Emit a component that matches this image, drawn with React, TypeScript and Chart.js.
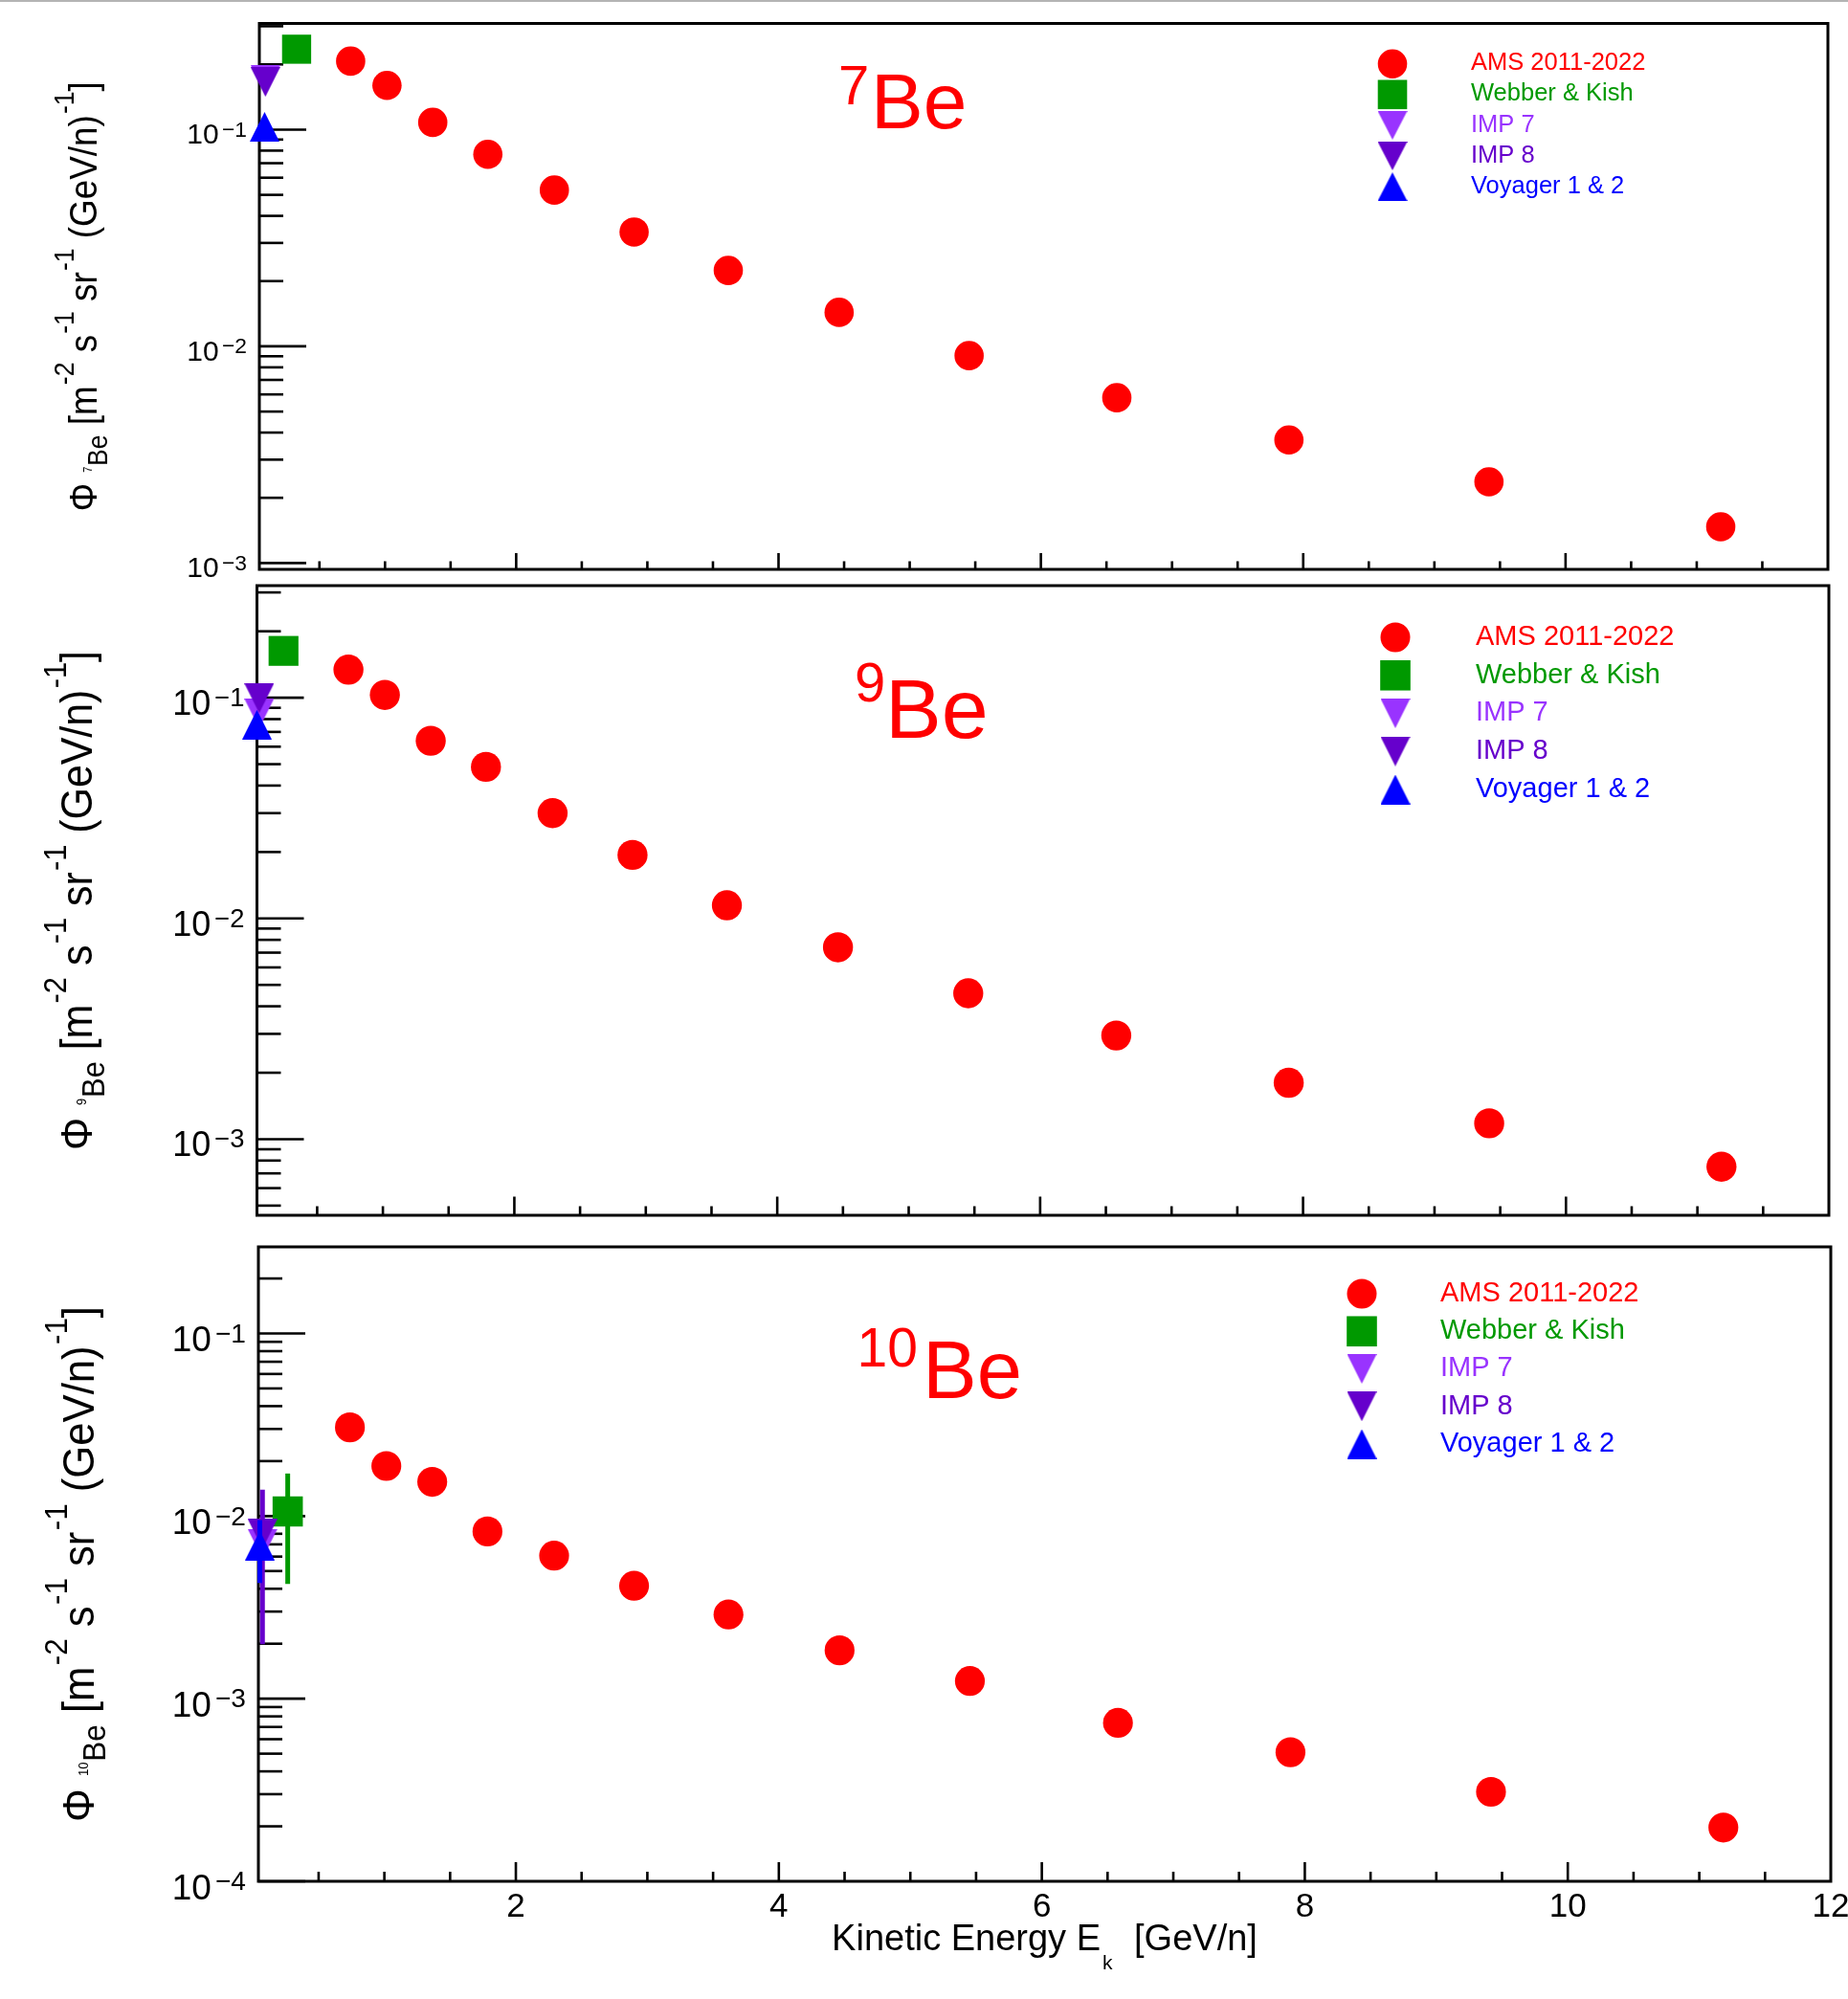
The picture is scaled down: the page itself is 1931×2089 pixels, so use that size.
import React, { useEffect, useRef } from 'react';
import { Chart, registerables } from 'chart.js';

Chart.register(...registerables);

// ------------------------------------------------------------------ data
// AMS bin energies (GeV/n) and fluxes for each isotope
const amsEnergy = [0.738, 1.015, 1.364, 1.784, 2.291, 2.899, 3.617, 4.462, 5.453, 6.579, 7.891, 9.416, 11.183];
const amsFluxBe7 = [0.207, 0.160, 0.108, 0.0769, 0.0526, 0.0337, 0.0224, 0.01435, 0.00906, 0.00579, 0.00370, 0.00237, 0.00147];
const amsFluxBe9 = [0.134, 0.103, 0.0638, 0.0486, 0.0300, 0.0194, 0.01147, 0.00740, 0.00458, 0.00295, 0.00180, 0.00118, 0.00075];
const amsFluxBe10 = [0.0306, 0.0188, 0.0154, 0.00824, 0.00607, 0.00415, 0.00289, 0.00184, 0.00125, 0.000737, 0.000509, 0.000309, 0.000197];

// other experiments, index 0: 7Be, 1: 9Be, 2: 10Be
const webberEnergy = [0.326, 0.244, 0.265];
const webberFlux = [0.235, 0.163, 0.0106];
const webberErrLow = [null, null, 0.00425];
const webberErrHigh = [null, null, 0.0171];

const imp7Energy = [0.088, 0.059, 0.073];
const imp7Flux = [0.170, 0.0848, 0.00705];

const imp8Energy = [0.088, 0.059, 0.073];
const imp8Flux = [0.166, 0.0995, 0.0080];
const imp8ErrLow = [null, null, 0.00199];
const imp8ErrHigh = [null, null, 0.01396];

const voyagerEnergy = [0.082, 0.042, 0.053];
const voyagerFlux = [0.103, 0.0755, 0.0069];
const voyagerErrLow = [null, null, 0.0043];
const voyagerErrHigh = [null, null, 0.0095];

const seriesNames = ['AMS 2011-2022', 'Webber & Kish', 'IMP 7', 'IMP 8', 'Voyager 1 & 2'];
const seriesColors = ['#ff0000', '#009900', '#9933ff', '#6600cc', '#0000ff'];
const isotopeMass = ['7', '9', '10'];
const amsFluxByPanel = [amsFluxBe7, amsFluxBe9, amsFluxBe10];

const yTickDecades = [
  [1e-1, 1e-2, 1e-3],
  [1e-1, 1e-2, 1e-3],
  [1e-1, 1e-2, 1e-3, 1e-4],
];
const xTickValues = [2, 4, 6, 8, 10, 12];
const xTickLabels = ['2', '4', '6', '8', '10', '12'];
const xAxisTitleParts = ['Kinetic Energy E', 'k', ' [GeV/n]'];

const X_MIN = 0.042;
const X_MAX = 12;

// ------------------------------------------------------------------ layout (page coordinates)
const PAGE_W = 1931;
const PAGE_H = 2089;

const PANELS = [
  {
    top: 0, height: 640,
    area: { left: 271, top: 24.5, right: 1910, bottom: 595 },
    yRange: [9.35e-4, 0.309],
    tickFont: 30,
    yTitle: { font: 41, x: 101, len: 449 },
    xTickLen: [17, 8.5],
    iso: { supX: 876, supBase: 109, supFont: 58, mainX: 910, mainBase: 134, mainFont: 82 },
    legend: { mx: 1455, y0: 66.7, dy: 32.1, tx: 1537, font: 25.5, r: 15.3, sq: 15.3, triW: 30.5, triH: 30 },
    marker: { r: 15.3, sq: 15.2, triW: 30.5, triH: 31 },
  },
  {
    top: 600, height: 700,
    area: { left: 268.5, top: 612, right: 1911, bottom: 1270 },
    yRange: [4.52e-4, 0.322],
    tickFont: 36,
    yTitle: { font: 47, x: 96, len: 522 },
    xTickLen: [19.5, 9.5],
    iso: { supX: 893, supBase: 733, supFont: 58, mainX: 925, mainBase: 771, mainFont: 88 },
    legend: { mx: 1458, y0: 666, dy: 39.75, tx: 1542, font: 29, r: 15.5, sq: 15.8, triW: 31, triH: 31 },
    marker: { r: 15.7, sq: 15.6, triW: 31, triH: 31 },
  },
  {
    top: 1285, height: 804,
    area: { left: 270, top: 1303, right: 1913, bottom: 1966 },
    yRange: [1e-4, 0.298],
    tickFont: 37,
    yTitle: { font: 47, x: 97.5, len: 539 },
    xTickLen: [20, 10],
    iso: { supX: 895.6, supBase: 1428, supFont: 57, mainX: 964, mainBase: 1461, mainFont: 85 },
    legend: { mx: 1423, y0: 1352, dy: 39.25, tx: 1505, font: 29, r: 15.5, sq: 15.8, triW: 31, triH: 31 },
    marker: { r: 15.6, sq: 15.8, triW: 31, triH: 31 },
  },
];

const FONT = '"Liberation Sans", Arial, Helvetica, sans-serif';
const font = (px: number) => `${px}px ${FONT}`;

type Seg = { t: string; s: number; dy?: number; dx?: number };

function segWidth(ctx: CanvasRenderingContext2D, segs: Seg[]) {
  let w = 0;
  for (const g of segs) {
    ctx.font = font(g.s);
    w += (g.dx || 0) + ctx.measureText(g.t).width;
  }
  return w;
}

function drawSegs(ctx: CanvasRenderingContext2D, segs: Seg[], x: number, y: number) {
  let cx = x;
  ctx.textAlign = 'left';
  ctx.textBaseline = 'alphabetic';
  for (const g of segs) {
    ctx.font = font(g.s);
    cx += g.dx || 0;
    ctx.fillText(g.t, cx, y + (g.dy || 0));
    cx += ctx.measureText(g.t).width;
  }
}

function triCanvas(color: string, w: number, h: number, down: boolean) {
  const c = document.createElement('canvas');
  c.width = Math.round(w);
  c.height = Math.round(h);
  const g = c.getContext('2d') as CanvasRenderingContext2D;
  g.fillStyle = color;
  g.beginPath();
  if (down) {
    g.moveTo(0, 0);
    g.lineTo(c.width, 0);
    g.lineTo(c.width / 2, c.height);
  } else {
    g.moveTo(c.width / 2, 0);
    g.lineTo(c.width, c.height);
    g.lineTo(0, c.height);
  }
  g.closePath();
  g.fill();
  return c;
}

function makePlugin(idx: number, legendTris: HTMLCanvasElement[]) {
  const p = PANELS[idx];
  const off = p.top;
  return {
    id: 'rootStyle' + idx,
    beforeDatasetsDraw(chart: any) {
      const ctx: CanvasRenderingContext2D = chart.ctx;
      const a = chart.chartArea;
      const xs = chart.scales.x;
      const ys = chart.scales.y;
      ctx.save();
      ctx.strokeStyle = '#000';
      ctx.lineWidth = 2.6;
      // y ticks (inside, from left axis)
      const lo = Math.floor(Math.log10(p.yRange[0]));
      const hi = Math.ceil(Math.log10(p.yRange[1]));
      for (let e = lo; e <= hi; e++) {
        for (let k = 1; k <= 9; k++) {
          const v = k * Math.pow(10, e);
          if (v < p.yRange[0] || v > p.yRange[1]) continue;
          const py = ys.getPixelForValue(v);
          const len = k === 1 ? 49 : 25;
          ctx.beginPath();
          ctx.moveTo(a.left, py);
          ctx.lineTo(a.left + len, py);
          ctx.stroke();
        }
      }
      // x ticks (inside, from bottom axis)
      for (let i = 1; i < 24; i++) {
        const v = i * 0.5;
        if (v <= X_MIN) continue;
        const px = xs.getPixelForValue(v);
        const len = i % 4 === 0 ? p.xTickLen[0] : p.xTickLen[1];
        ctx.beginPath();
        ctx.moveTo(px, a.bottom);
        ctx.lineTo(px, a.bottom - len);
        ctx.stroke();
      }
      // frame
      ctx.lineWidth = 3;
      ctx.strokeRect(a.left, a.top, a.right - a.left, a.bottom - a.top);

      // y tick labels 10^n
      ctx.fillStyle = '#000';
      const F = p.tickFont;
      for (const d of yTickDecades[idx]) {
        const py = ys.getPixelForValue(d);
        const e = Math.round(Math.log10(d));
        const segs: Seg[] = [
          { t: '10', s: F },
          { t: '\u2212' + Math.abs(e), s: 0.76 * F, dy: -0.25 * F, dx: 0.11 * F },
        ];
        const w = segWidth(ctx, segs);
        drawSegs(ctx, segs, a.left - 13 - w, py + 0.5 * F);
      }

      // x tick labels and title (bottom panel only)
      if (idx === 2) {
        ctx.font = font(35);
        ctx.textAlign = 'center';
        ctx.textBaseline = 'alphabetic';
        xTickValues.forEach((v, i) => {
          ctx.fillText(xTickLabels[i], xs.getPixelForValue(v), a.bottom + 37);
        });
        const segs: Seg[] = [
          { t: xAxisTitleParts[0], s: 38 },
          { t: xAxisTitleParts[1], s: 21, dy: 20, dx: 2 },
          { t: xAxisTitleParts[2], s: 38, dx: 12 },
        ];
        const w = segWidth(ctx, segs);
        drawSegs(ctx, segs, (a.left + a.right) / 2 - w / 2, 2038 - off);
      }

      // y axis title (rotated)
      const T = p.yTitle.font;
      const sup = (t: string): Seg => ({ t, s: 0.72 * T, dy: -0.58 * T, dx: 0.03 * T });
      const tsegs: Seg[] = [
        { t: '\u03A6', s: T },
        { t: isotopeMass[idx], s: 0.3 * T, dy: -0.12 * T, dx: 0.3 * T },
        { t: 'Be', s: 0.72 * T, dy: 0.27 * T, dx: 0.02 * T },
        { t: ' [m', s: T },
        sup('-2'),
        { t: ' s', s: T },
        sup('-1'),
        { t: ' sr', s: T },
        sup('-1'),
        { t: ' (GeV/n)', s: T },
        sup('-1'),
        { t: ']', s: T },
      ];
      const w0 = segWidth(ctx, tsegs);
      ctx.save();
      ctx.translate(p.yTitle.x, (a.top + a.bottom) / 2);
      ctx.rotate(-Math.PI / 2);
      ctx.scale(p.yTitle.len / w0, 1);
      drawSegs(ctx, tsegs, -w0 / 2, 0);
      ctx.restore();

      ctx.restore();
    },
    afterDatasetsDraw(chart: any) {
      const ctx: CanvasRenderingContext2D = chart.ctx;
      ctx.save();
      // isotope label
      ctx.fillStyle = '#ff0000';
      ctx.textAlign = 'left';
      ctx.textBaseline = 'alphabetic';
      ctx.font = font(p.iso.supFont);
      ctx.fillText(isotopeMass[idx], p.iso.supX, p.iso.supBase - off);
      ctx.font = font(p.iso.mainFont);
      ctx.fillText('Be', p.iso.mainX, p.iso.mainBase - off);

      // legend
      const L = p.legend;
      seriesNames.forEach((name, i) => {
        const y = L.y0 + i * L.dy - off;
        ctx.fillStyle = seriesColors[i];
        if (i === 0) {
          ctx.beginPath();
          ctx.arc(L.mx, y, L.r, 0, Math.PI * 2);
          ctx.fill();
        } else if (i === 1) {
          ctx.fillRect(L.mx - L.sq, y - L.sq, 2 * L.sq, 2 * L.sq);
        } else {
          const img = legendTris[i - 2];
          ctx.drawImage(img, L.mx - img.width / 2, y - img.height / 2);
        }
        ctx.font = font(L.font);
        ctx.textAlign = 'left';
        ctx.textBaseline = 'alphabetic';
        ctx.fillText(name, L.tx, y - 2.5 + 0.358 * L.font);
      });
      ctx.restore();
    },
  };
}

function Panel({ idx }: { idx: number }) {
  const ref = useRef<HTMLCanvasElement>(null);
  const p = PANELS[idx];
  useEffect(() => {
    const canvas = ref.current;
    if (!canvas) return;
    const m = p.marker;
    const triIMP7 = triCanvas(seriesColors[2], m.triW, m.triH, true);
    const triIMP8 = triCanvas(seriesColors[3], m.triW, m.triH, true);
    const triVoy = triCanvas(seriesColors[4], m.triW, m.triH, false);
    const L = p.legend;
    const legendTris = [
      triCanvas(seriesColors[2], L.triW, L.triH, true),
      triCanvas(seriesColors[3], L.triW, L.triH, true),
      triCanvas(seriesColors[4], L.triW, L.triH, false),
    ];

    const datasets: any[] = [];
    datasets.push({
      label: seriesNames[0],
      data: amsEnergy.map((x, i) => ({ x, y: amsFluxByPanel[idx][i] })),
      pointStyle: 'circle', pointRadius: m.r, backgroundColor: seriesColors[0],
      borderWidth: 0, order: 10, clip: false,
    });
    const errBar = (x: number, lo: number | null, hi: number | null, color: string, order: number) => {
      if (lo == null || hi == null) return;
      datasets.push({
        label: 'err',
        data: [{ x, y: lo }, { x, y: hi }],
        showLine: true, borderColor: color, borderWidth: 5, pointRadius: 0,
        order, clip: false,
      });
    };
    errBar(webberEnergy[idx], webberErrLow[idx], webberErrHigh[idx], seriesColors[1], 9);
    datasets.push({
      label: seriesNames[1],
      data: [{ x: webberEnergy[idx], y: webberFlux[idx] }],
      pointStyle: 'rect', pointRadius: m.sq / Math.SQRT1_2, backgroundColor: seriesColors[1],
      borderWidth: 0, order: 8, clip: false,
    });
    errBar(imp8Energy[idx], imp8ErrLow[idx], imp8ErrHigh[idx], seriesColors[3], 7);
    datasets.push({
      label: seriesNames[2],
      data: [{ x: imp7Energy[idx], y: imp7Flux[idx] }],
      pointStyle: triIMP7, pointRadius: m.triW / 2, borderWidth: 0, order: 6, clip: false,
    });
    datasets.push({
      label: seriesNames[3],
      data: [{ x: imp8Energy[idx], y: imp8Flux[idx] }],
      pointStyle: triIMP8, pointRadius: m.triW / 2, borderWidth: 0, order: 5, clip: false,
    });
    errBar(voyagerEnergy[idx], voyagerErrLow[idx], voyagerErrHigh[idx], seriesColors[4], 4);
    datasets.push({
      label: seriesNames[4],
      data: [{ x: voyagerEnergy[idx], y: voyagerFlux[idx] }],
      pointStyle: triVoy, pointRadius: m.triW / 2, borderWidth: 0, order: 3, clip: false,
    });

    const a = p.area;
    const chart = new Chart(canvas, {
      type: 'scatter',
      data: { datasets },
      options: {
        responsive: false,
        animation: false,
        devicePixelRatio: 1,
        events: [],
        layout: {
          autoPadding: false,
          padding: {
            left: a.left,
            right: PAGE_W - a.right,
            top: a.top - p.top,
            bottom: p.top + p.height - a.bottom,
          },
        },
        scales: {
          x: { type: 'linear', min: X_MIN, max: X_MAX, display: false },
          y: { type: 'logarithmic', min: p.yRange[0], max: p.yRange[1], display: false },
        },
        plugins: {
          legend: { display: false },
          tooltip: { enabled: false },
          title: { display: false },
        },
      },
      plugins: [makePlugin(idx, legendTris)],
    } as any);
    return () => chart.destroy();
  }, [idx]);

  return (
    <canvas
      ref={ref}
      width={PAGE_W}
      height={p.height}
      style={{ position: 'absolute', left: 0, top: p.top, width: PAGE_W, height: p.height, display: 'block' }}
    />
  );
}

export default function App() {
  return (
    <div style={{ position: 'absolute', left: 0, top: 0, width: PAGE_W, height: PAGE_H, background: '#fff', overflow: 'hidden' }}>
      <div style={{ position: 'absolute', left: 0, top: 0, width: PAGE_W, height: 2, background: '#b4b4b4' }} />
      <Panel idx={0} />
      <Panel idx={1} />
      <Panel idx={2} />
    </div>
  );
}
